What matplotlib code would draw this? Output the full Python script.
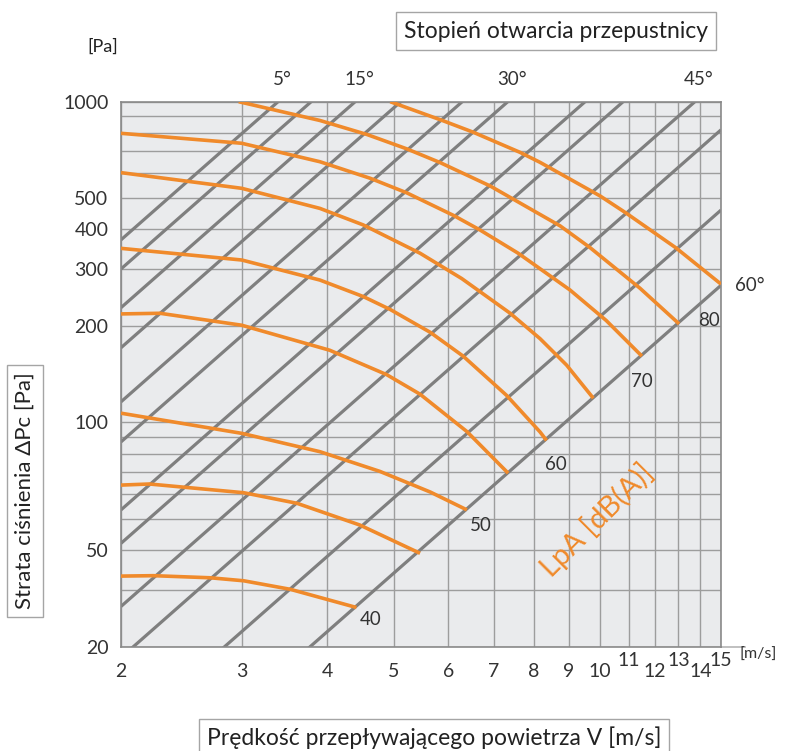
import numpy as np
import matplotlib.pyplot as plt
from matplotlib.ticker import NullLocator
from matplotlib.transforms import ScaledTranslation

plt.rcParams['font.family'] = ['Lato', 'DejaVu Sans']

# Axis ticks / grid
x_ticks = [2, 3, 4, 5, 6, 7, 8, 9, 10, 11, 12, 13, 14, 15]
x_raised = [11, 13, 15]
y_ticks = [20, 40, 100, 200, 300, 400, 500, 1000]
y_tick_labels = ['20', '50', '100', '200', '300', '400', '500', '1000']
y_grid = [20, 30, 40, 50, 60, 70, 80, 90, 100, 200, 300, 400, 500, 600, 700, 800, 900, 1000]

# Damper opening lines: P = p_at_2 * (V / 2) ** exponent
damper_p_at_2 = [371, 301, 228, 171, 116, 87, 53.4, 42, 26.7, 18.5, 10.4, 6.06]
damper_exponent = 1.88
angle_labels = ['5°', '15°', '30°', '45°']
angle_line_idx = [0, 2, 5, 8]
last_angle_label = '60°'

# Sound level curves LpA [dB(A)]
v40 = [2.0, 2.23, 2.70, 3.02, 3.53, 4.41]
p40 = [33.2, 33.3, 32.8, 32.1, 30.2, 26.5]
v45 = [2.0, 2.20, 3.02, 3.61, 4.46, 5.46]
p45 = [63.8, 64.3, 60.4, 56.0, 47.9, 39.1]
v50 = [2.0, 3.0, 3.90, 4.77, 5.65, 6.39]
p50 = [106.9, 92.5, 81.1, 70.4, 60.7, 53.4]
v55 = [2.0, 2.28, 3.0, 4.03, 4.88, 5.46, 6.39, 7.34]
p55 = [218, 219, 201, 168, 141, 122.5, 93.7, 69.5]
v60 = [2.0, 3.0, 3.90, 4.51, 4.94, 5.65, 6.31, 7.30, 8.17, 8.35]
p60 = [349, 321, 278, 247, 225, 191, 161, 121.5, 93.4, 87.9]
v65 = [2.0, 3.0, 3.90, 4.51, 5.46, 6.28, 7.39, 8.17, 8.93, 9.77]
p65 = [601, 537, 465, 413, 337, 281, 219, 182.5, 151, 119]
v70 = [2.0, 3.0, 3.90, 4.62, 5.22, 6.11, 6.68, 7.59, 9.03, 10.2, 11.5]
p70 = [797, 742, 650, 577, 520, 442, 398, 337, 259, 208, 161]
v75 = [2.97, 3.90, 4.57, 5.22, 5.84, 6.91, 8.74, 9.66, 11.43, 13.03]
p75 = [1000, 874, 790, 713, 646, 546, 410, 351, 262, 203]
v80 = [4.94, 5.90, 6.52, 7.64, 8.17, 10.0, 10.9, 12.9, 15.0]
p80 = [1000, 872, 804, 695, 647, 508, 450, 350, 270]

curves = [(v40, p40), (v45, p45), (v50, p50), (v55, p55), (v60, p60),
          (v65, p65), (v70, p70), (v75, p75), (v80, p80)]
lpa_levels = [40, 45, 50, 55, 60, 65, 70, 75, 80]
labelled_levels = [40, 50, 60, 70, 80]
label_offsets = [(10, -9), (10, -11), (6.5, -17), (0, -18), (-8.5, -26)]

orange = '#f08a2b'
grey_line = '#7f7f7f'
grid_c = '#9d9d9d'
txt_c = '#333333'

fig = plt.figure(figsize=(7.92, 7.51), dpi=100)
ax = fig.add_axes([121 / 792, 1 - 646.7 / 751, 600 / 792, 545 / 751])
ax.set_xscale('log')
ax.set_yscale('log')
ax.set_xlim(2, 15)
ax.set_ylim(20, 1000)
ax.set_facecolor('#eaebed')
ax.xaxis.set_minor_locator(NullLocator())
ax.yaxis.set_minor_locator(NullLocator())

for v in x_ticks:
    ax.axvline(v, color=grid_c, lw=1.0, zorder=1)
for p in y_grid:
    ax.axhline(p, color=grid_c, lw=1.0, zorder=1)

# damper lines
V = np.array([2.0, 15.0])
for p2 in damper_p_at_2:
    ax.plot(V, p2 * (V / 2) ** damper_exponent, color=grey_line, lw=2.3,
            zorder=2, solid_capstyle='butt')

# angle labels
for lab, i in zip(angle_labels, angle_line_idx):
    v_top = 2 * (1000 / damper_p_at_2[i]) ** (1 / damper_exponent)
    ax.annotate(lab, (v_top, 1000), xytext=(3, 16), textcoords='offset points',
                ha='center', va='center', fontsize=13.5, color=txt_c,
                annotation_clip=False)
p_end = damper_p_at_2[-1] * (15 / 2) ** damper_exponent
ax.annotate(last_angle_label, (15, p_end), xytext=(10, 0), textcoords='offset points',
            ha='left', va='center', fontsize=13.5, color=txt_c, annotation_clip=False)

# sound level curves
for (v, p), lvl in zip(curves, lpa_levels):
    ax.plot(v, p, color=orange, lw=2.6, zorder=3, solid_capstyle='butt',
            solid_joinstyle='round')
for lvl, off in zip(labelled_levels, label_offsets):
    v, p = curves[lpa_levels.index(lvl)]
    ax.annotate(str(lvl), (v[-1], p[-1]), xytext=off, textcoords='offset points',
                ha='center', va='center', fontsize=13.5, color=txt_c)

ax.text(0.793, 0.2325, 'LpA [dB(A)]', transform=ax.transAxes, rotation=45,
        rotation_mode='anchor', ha='center', va='center', fontsize=21, color=orange)

# ticks
ax.set_xticks(x_ticks)
ax.set_xticklabels([str(v) for v in x_ticks])
ax.set_yticks(y_ticks)
ax.set_yticklabels(y_tick_labels)
ax.tick_params(length=0, labelsize=14, labelcolor=txt_c)
ax.tick_params(axis='x', pad=12)
ax.tick_params(axis='y', pad=9)
shift = ScaledTranslation(0, 11 / 100, fig.dpi_scale_trans)
for lab, v in zip(ax.get_xticklabels(), x_ticks):
    if v in x_raised:
        lab.set_transform(lab.get_transform() + shift)

for s in ax.spines.values():
    s.set_color('#8a8a8a')
    s.set_linewidth(1.2)
ax.plot([1, 1.04], [0, 0], transform=ax.transAxes, clip_on=False,
        color='#b5b5b5', lw=1.2)

box = dict(boxstyle='square,pad=0.35', fc='white', ec='#a5a5a5', lw=1)
fig.text(556 / 792, 1 - 31 / 751, 'Stopień otwarcia przepustnicy', ha='center',
         va='center', fontsize=16.5, color='#222222', bbox=box)
fig.text(103 / 792, 1 - 47 / 751, '[Pa]', ha='center', va='center', fontsize=13,
         color='#222222')
fig.text(25 / 792, 1 - 491 / 751, 'Strata ciśnienia ΔPc [Pa]', rotation=90,
         ha='center', va='center', fontsize=16, color='#222222', bbox=box)
fig.text(434 / 792, 1 - 738 / 751, 'Prędkość przepływającego powietrza V [m/s]',
         ha='center', va='center', fontsize=16.5, color='#222222', bbox=box)
fig.text(758 / 792, 1 - 655 / 751, '[m/s]', ha='center', va='center', fontsize=11.5,
         color=txt_c)

fig.savefig('out.png', dpi=100)
